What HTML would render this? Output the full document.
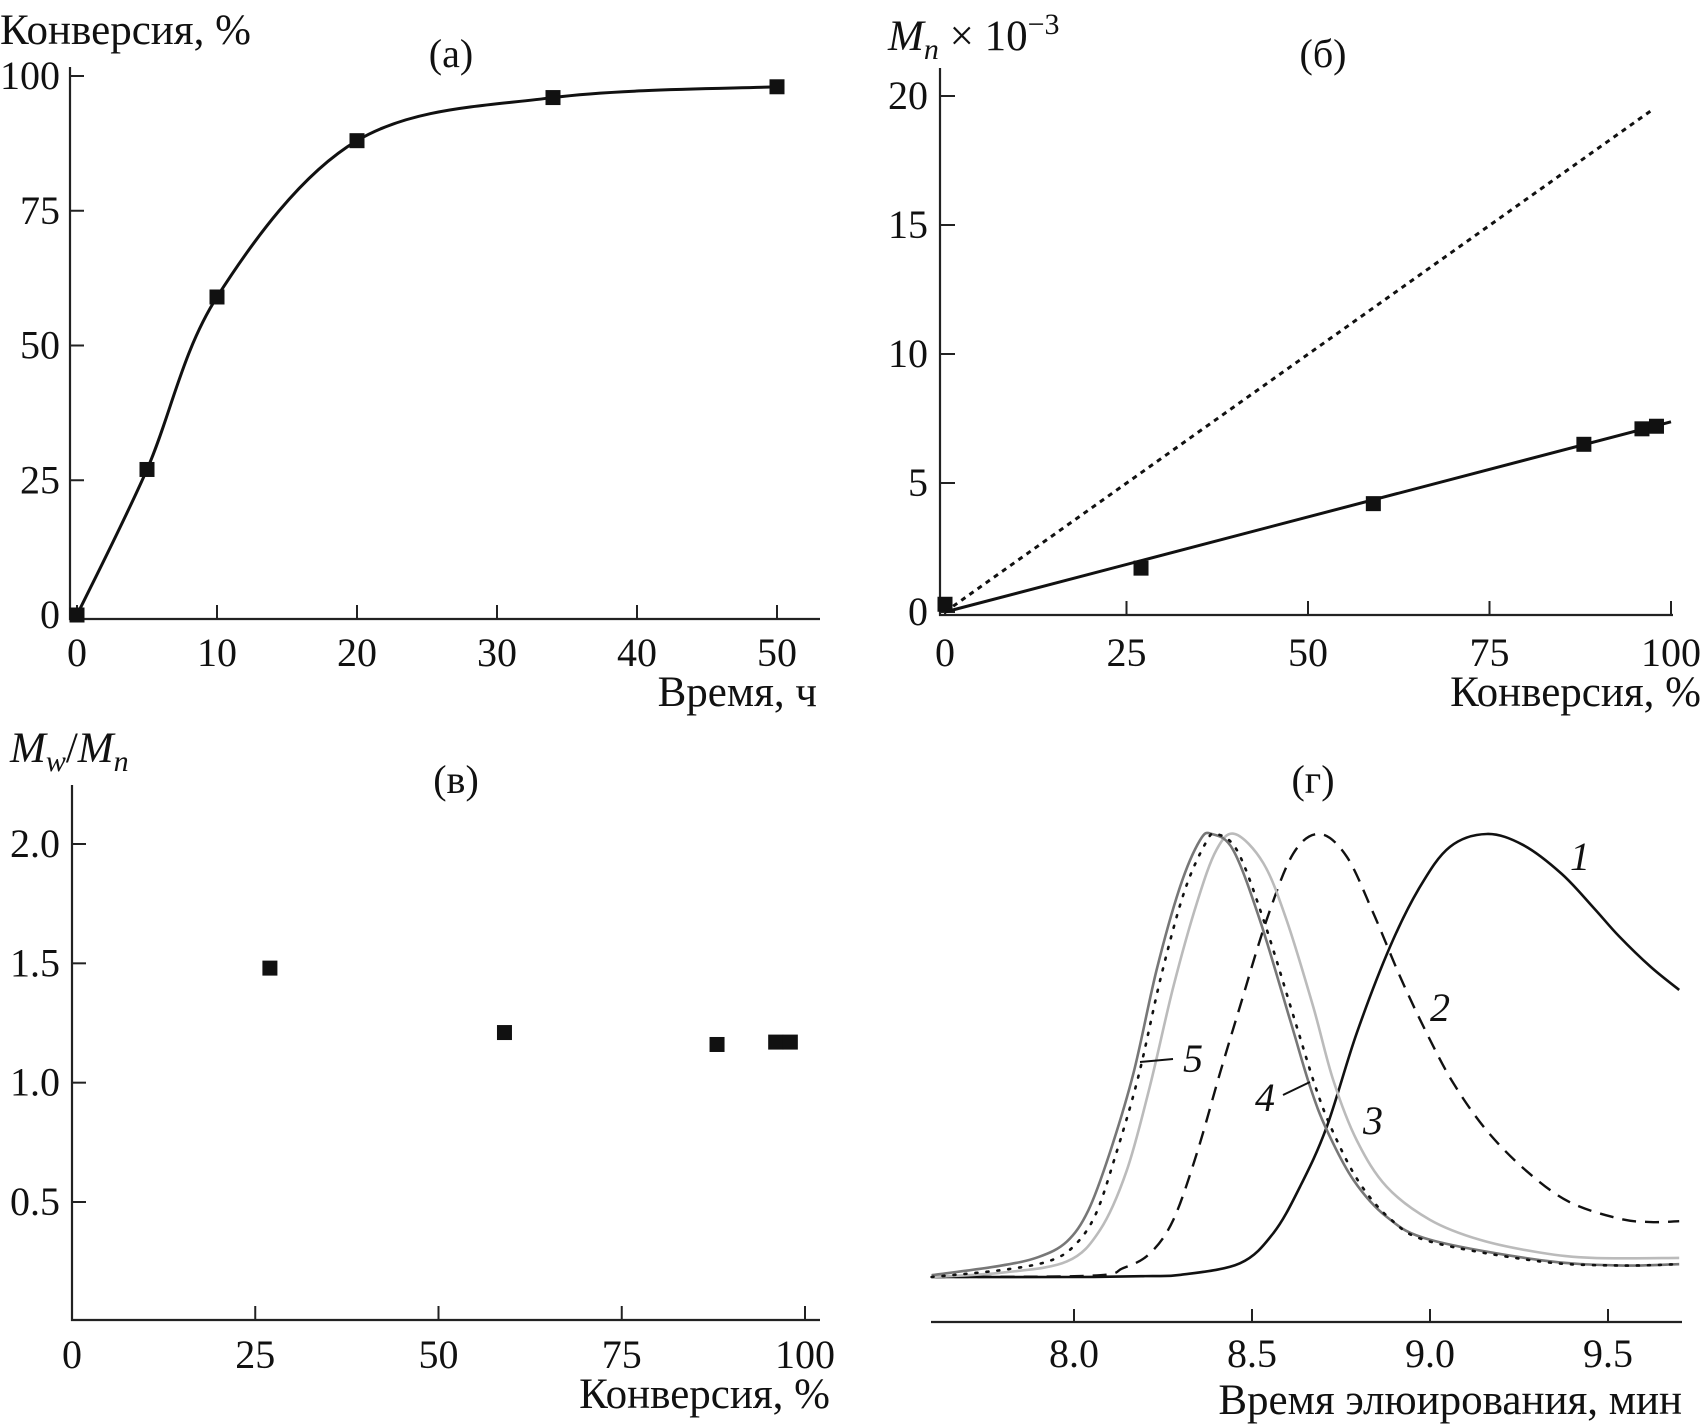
<!DOCTYPE html>
<html><head><meta charset="utf-8"><style>
body{margin:0;background:#fff}
svg{display:block;font-family:"Liberation Serif","DejaVu Serif",serif;}
text{fill:#111}
</style></head><body>
<svg id="fig" width="1704" height="1427" viewBox="0 0 1704 1427" xmlns="http://www.w3.org/2000/svg">
<g id="pa"></g>
<g id="pb"></g>
<g id="pc"></g>
<g id="pd"></g>
</svg>
<script>
// Panel a data
const aTime=[0,5,10,20,34,50];
const aConv=[0,27,59,88,96,98];
const aXTicks=[0,10,20,30,40,50];
const aYTicks=[0,25,50,75,100];
// Panel b data
const bConv=[0,27,59,88,96,98];
const bMn=[0.3,1.7,4.2,6.5,7.1,7.2];
const bFitX=[0,100];
const bFitY=[0,7.37];
const bTheoX=[0,97.6];
const bTheoY=[0,19.5];
const bXTicks=[0,25,50,75,100];
const bYTicks=[0,5,10,15,20];
// Panel c data
const cConv=[27,59,88,96,98];
const cPdi=[1.48,1.21,1.16,1.17,1.17];
const cXTicks=[0,25,50,75,100];
const cYTicks=["0.5","1.0","1.5","2.0"];
// Panel d data (elution time, normalized intensity)
const d1T=[7.60,8.01,8.20,8.30,8.466,8.56,8.635,8.71,8.794,8.888,8.972,9.056,9.16,9.262,9.37,9.46,9.53,9.62,9.70];
const d1I=[0,0,0.002,0.005,0.031,0.099,0.204,0.339,0.55,0.746,0.881,0.971,1.0,0.975,0.91,0.833,0.77,0.70,0.648];
const d2T=[7.60,8.05,8.138,8.213,8.279,8.345,8.41,8.466,8.541,8.616,8.69,8.766,8.841,8.916,8.991,9.066,9.16,9.27,9.39,9.53,9.62,9.70];
const d2I=[0,0.003,0.02,0.053,0.129,0.279,0.46,0.61,0.806,0.956,1.0,0.949,0.821,0.678,0.55,0.437,0.33,0.24,0.17,0.132,0.124,0.126];
const d3T=[7.60,7.80,7.98,8.073,8.148,8.213,8.279,8.345,8.40,8.452,8.532,8.597,8.672,8.728,8.794,8.878,9.0,9.14,9.31,9.46,9.70];
const d3I=[0,0.01,0.035,0.106,0.24,0.43,0.655,0.844,0.964,1.0,0.934,0.806,0.61,0.445,0.309,0.204,0.129,0.084,0.055,0.043,0.043];
const d4T=[7.60,7.80,7.93,8.00,8.06,8.115,8.18,8.245,8.31,8.37,8.40,8.46,8.535,8.62,8.678,8.725,8.80,8.89,9.0,9.31,9.53,9.70];
const d4I=[0,0.016,0.036,0.07,0.14,0.27,0.45,0.68,0.87,0.98,1.0,0.96,0.80,0.58,0.43,0.332,0.215,0.13,0.08,0.035,0.026,0.029];
const d5T=[7.60,7.79,7.90,7.98,8.04,8.10,8.167,8.232,8.298,8.354,8.387,8.447,8.522,8.607,8.663,8.71,8.785,8.878,9.0,9.31,9.53,9.70];
const d5I=[0.004,0.025,0.045,0.08,0.15,0.279,0.46,0.693,0.881,0.986,1.0,0.964,0.806,0.58,0.43,0.332,0.219,0.136,0.084,0.038,0.026,0.029];
const dXTicks=["8.0","8.5","9.0","9.5"];

const NS="http://www.w3.org/2000/svg";
const TF=40, HF=43, PF=40;
function mk(parent,tag,attrs,txt){const e=document.createElementNS(NS,tag);for(const k in attrs)e.setAttribute(k,attrs[k]);if(txt!==undefined)e.textContent=txt;parent.appendChild(e);return e;}
function lin(d0,d1,r0,r1){return v=>r0+(v-d0)*(r1-r0)/(d1-d0);}
function smooth(pts){let d="M"+pts[0][0]+","+pts[0][1];for(let i=0;i<pts.length-1;i++){const p0=pts[Math.max(0,i-1)],p1=pts[i],p2=pts[i+1],p3=pts[Math.min(pts.length-1,i+2)];const c1x=p1[0]+(p2[0]-p0[0])/6,c1y=p1[1]+(p2[1]-p0[1])/6,c2x=p2[0]-(p3[0]-p1[0])/6,c2y=p2[1]-(p3[1]-p1[1])/6;d+=` C${c1x},${c1y} ${c2x},${c2y} ${p2[0]},${p2[1]}`;}return d;}
const AX={stroke:"#222","stroke-width":2.2,fill:"none"};

// ---------- Panel a ----------
(function(){
const g=document.getElementById('pa');
const x=lin(0,50,77,777), y=lin(0,100,615,76);
let e=mk(g,'path',Object.assign({d:"M70,67 L70,619 L820,619"},AX));


aXTicks.forEach(v=>{let t=mk(g,'line',{x1:x(v),x2:x(v),y1:619,y2:605,stroke:"#222","stroke-width":2});


let l=mk(g,'text',{x:x(v),y:666,"text-anchor":"middle","font-size":TF},v);

});
aYTicks.forEach(v=>{let t=mk(g,'line',{x1:70,x2:84,y1:y(v),y2:y(v),stroke:"#222","stroke-width":2});


let l=mk(g,'text',{x:60,y:y(v)+13,"text-anchor":"end","font-size":TF},v);

});
const pts=aTime.map((t,i)=>[x(t),y(aConv[i])]);
e=mk(g,'path',{d:smooth(pts),stroke:"#111","stroke-width":3,fill:"none"});


pts.forEach(p=>{let m=mk(g,'rect',{x:p[0]-7.5,y:p[1]-7.5,width:15,height:15,fill:"#111"});

});
e=mk(g,'text',{x:0,y:44,"font-size":HF},"Конверсия, %");


e=mk(g,'text',{x:451,y:67,"text-anchor":"middle","font-size":PF},"(а)");


e=mk(g,'text',{x:817,y:706,"text-anchor":"end","font-size":HF},"Время, ч");


})();

// ---------- Panel b ----------
(function(){
const g=document.getElementById('pb');
const x=lin(0,100,945,1671), y=lin(0,20,612,96);
let e=mk(g,'path',Object.assign({d:"M940,68 L940,615 L1673,615"},AX));


bXTicks.forEach(v=>{let t=mk(g,'line',{x1:x(v),x2:x(v),y1:615,y2:601,stroke:"#222","stroke-width":2});


let l=mk(g,'text',{x:x(v),y:666,"text-anchor":"middle","font-size":TF},v);

});
bYTicks.forEach(v=>{let t=mk(g,'line',{x1:940,x2:955,y1:y(v),y2:y(v),stroke:"#222","stroke-width":2});


let l=mk(g,'text',{x:928,y:y(v)+13,"text-anchor":"end","font-size":TF},v);

});
e=mk(g,'line',{x1:x(bTheoX[0]),y1:y(bTheoY[0]),x2:x(bTheoX[1]),y2:y(bTheoY[1]),stroke:"#111","stroke-width":3,"stroke-dasharray":"5,5"});


e=mk(g,'line',{x1:x(bFitX[0]),y1:y(bFitY[0]),x2:x(bFitX[1]),y2:y(bFitY[1]),stroke:"#111","stroke-width":3});


bConv.forEach((c,i)=>{let m=mk(g,'rect',{x:x(c)-7.5,y:y(bMn[i])-7.5,width:15,height:15,fill:"#111"});

});
e=mk(g,'text',{x:888,y:50,"font-size":HF});


e.innerHTML='<tspan font-style="italic">M</tspan><tspan font-style="italic" font-size="30" dy="9">n</tspan><tspan dy="-9"> × 10</tspan><tspan font-size="30" dy="-16">−3</tspan>';
e=mk(g,'text',{x:1323,y:67,"text-anchor":"middle","font-size":PF},"(б)");


e=mk(g,'text',{x:1701,y:706,"text-anchor":"end","font-size":HF},"Конверсия, %");


})();

// ---------- Panel c ----------
(function(){
const g=document.getElementById('pc');
const x=lin(0,100,72,805), y=lin(0.5,2.0,1202,844);
let e=mk(g,'path',Object.assign({d:"M72,785 L72,1320 L820,1320"},AX));


cXTicks.forEach(v=>{let t=mk(g,'line',{x1:x(v),x2:x(v),y1:1320,y2:1306,stroke:"#222","stroke-width":2});


let l=mk(g,'text',{x:x(v),y:1368,"text-anchor":"middle","font-size":TF},v);

});
cYTicks.forEach(v=>{const yy=y(parseFloat(v));let t=mk(g,'line',{x1:72,x2:86,y1:yy,y2:yy,stroke:"#222","stroke-width":2});


let l=mk(g,'text',{x:60,y:yy+13,"text-anchor":"end","font-size":TF},v);

});
cConv.forEach((c,i)=>{let m=mk(g,'rect',{x:x(c)-7.5,y:y(cPdi[i])-7.5,width:15,height:15,fill:"#111"});

});
e=mk(g,'text',{x:10,y:762,"font-size":HF});


e.innerHTML='<tspan font-style="italic">M</tspan><tspan font-style="italic" font-size="30" dy="9">w</tspan><tspan dy="-9">/</tspan><tspan font-style="italic">M</tspan><tspan font-style="italic" font-size="30" dy="9">n</tspan>';
e=mk(g,'text',{x:456,y:793,"text-anchor":"middle","font-size":PF},"(в)");


e=mk(g,'text',{x:830,y:1408,"text-anchor":"end","font-size":HF},"Конверсия, %");


})();

// ---------- Panel d ----------
(function(){
const g=document.getElementById('pd');
const x=lin(8.0,9.5,1074,1608), y=lin(0,1,1277,834);
let e=mk(g,'line',{x1:931,x2:1682,y1:1322,y2:1322,stroke:"#222","stroke-width":2.2});


dXTicks.forEach(v=>{const xx=x(parseFloat(v));let t=mk(g,'line',{x1:xx,x2:xx,y1:1322,y2:1309,stroke:"#222","stroke-width":2});


let l=mk(g,'text',{x:xx,y:1367,"text-anchor":"middle","font-size":TF},v);

});
const series=[[d1T,d1I,{stroke:"#111","stroke-width":2.6},'curve-1'],[d2T,d2I,{stroke:"#111","stroke-width":2.4,"stroke-dasharray":"14,9"},'curve-2'],[d3T,d3I,{stroke:"#bbb","stroke-width":2.6},'curve-3'],[d5T,d5I,{stroke:"#777","stroke-width":2.6},'curve-5'],[d4T,d4I,{stroke:"#111","stroke-width":2.6,"stroke-dasharray":"2,9","stroke-linecap":"round"},'curve-4']];
series.forEach(s=>{const pts=s[0].map((t,i)=>[x(t),y(s[1][i])]);
const p=mk(g,'path',Object.assign({d:smooth(pts),fill:"none"},s[2]));

});
const labs=[["1",1580,870],["2",1440,1021],["3",1373,1134],["4",1265,1111],["5",1193,1072]];
labs.forEach(l=>{const t=mk(g,'text',{x:l[1],y:l[2],"font-size":PF,"font-style":"italic","text-anchor":"middle"},l[0]);

});
e=mk(g,'line',{x1:1283,y1:1095,x2:1310,y2:1082,stroke:"#111","stroke-width":2});


e=mk(g,'line',{x1:1140,y1:1062,x2:1173,y2:1059,stroke:"#111","stroke-width":2});


e=mk(g,'text',{x:1313,y:793,"text-anchor":"middle","font-size":PF},"(г)");


e=mk(g,'text',{x:1682,y:1414,"text-anchor":"end","font-size":HF},"Время элюирования, мин");


})();
</script>
</body></html>
